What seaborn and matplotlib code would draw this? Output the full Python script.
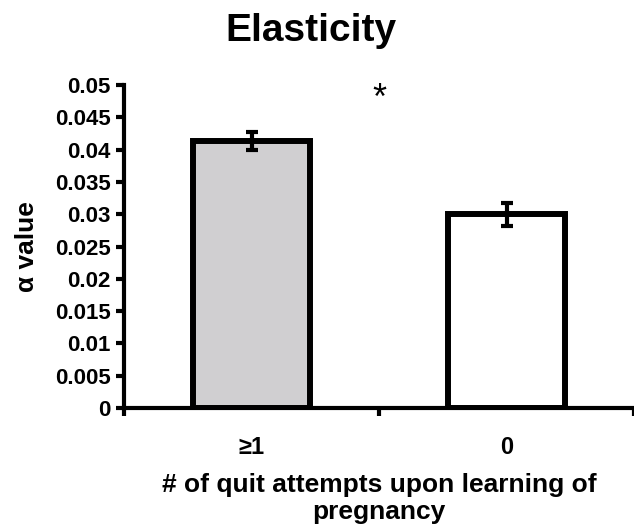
import matplotlib
matplotlib.use("Agg")
import matplotlib.pyplot as plt
import seaborn as sns
import pandas as pd
import numpy as np

categories = ["≥1", "0"]
values = [0.0413, 0.0300]
errors = [0.0014, 0.0018]
colors = ["#d0cfd1", "#ffffff"]
yticks = [0, 0.005, 0.01, 0.015, 0.02, 0.025, 0.03, 0.035, 0.04, 0.045, 0.05]
ytick_labels = ["0", "0.005", "0.01", "0.015", "0.02", "0.025", "0.03", "0.035", "0.04", "0.045", "0.05"]

sns.set_theme(style="white")
plt.rcParams['font.family'] = ['Liberation Sans', 'DejaVu Sans']
for k in ["text.color", "axes.labelcolor", "xtick.color", "ytick.color"]:
    plt.rcParams[k] = "black"

df = pd.DataFrame({"cat": categories, "val": values})

fig = plt.figure(figsize=(6.34, 5.31), dpi=100)
ax = fig.add_axes([0.196, 0.2316, 0.804, 0.6083])

sns.barplot(data=df, x="cat", y="val", hue="cat", palette=colors, order=categories,
            hue_order=categories, width=0.46, edgecolor="black", linewidth=4.3,
            legend=False, ax=ax, errorbar=None)
ax.errorbar(np.arange(len(categories)), values, yerr=errors, fmt="none", ecolor="black",
            elinewidth=3, capsize=4.5, capthick=3, zorder=5)

ax.set_ylim(0, 0.05)
ax.set_xlim(-0.5, 1.46)
ax.set_yticks(yticks)
ax.set_yticklabels(ytick_labels, fontsize=16, fontweight="bold")
ax.set_xticks([0, 1])
ax.set_xticklabels(categories, fontsize=17, fontweight="bold")
ax.set_xticks([-0.5, 0.5, 1.5], minor=True)
ax.tick_params(axis="x", which="major", length=0, pad=20)
ax.tick_params(axis="x", which="minor", length=6, width=3, direction="out", bottom=True, color="black")
ax.tick_params(axis="y", length=6, width=3, direction="out", left=True, color="black", pad=4)

for s in ["top", "right"]:
    ax.spines[s].set_visible(False)
for s in ["left", "bottom"]:
    ax.spines[s].set_linewidth(3)
    ax.spines[s].set_color("black")

ax.set_ylabel("α value", fontsize=19, fontweight="bold", labelpad=11)
ax.set_xlabel("# of quit attempts upon learning of\npregnancy", fontsize=19, fontweight="bold",
              labelpad=10, linespacing=1.2)
ax.text(0.5, 0.0478, "*", ha="center", va="center", fontsize=26, color="black")

fig.suptitle("Elasticity", x=0.49, y=0.975, fontsize=28, fontweight="bold")

fig.savefig("out.png", dpi=100)
